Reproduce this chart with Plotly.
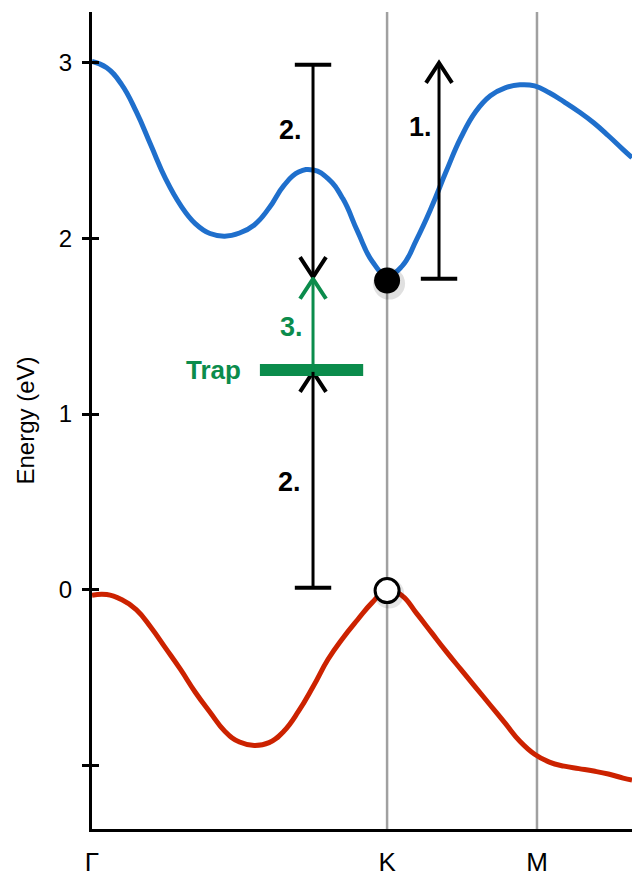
import plotly.graph_objects as go

# ---------------- data ----------------
k_ticks = [0.0, 1.0, 1.508]
k_labels = ["Γ", "K", "M"]
y_ticks = [-1, 0, 1, 2, 3]
y_ticklabels = ["", "0", "1", "2", "3"]

band_k = [0.00, 0.05, 0.10, 0.15, 0.20, 0.25, 0.30, 0.35, 0.40, 0.45, 0.50, 0.55, 0.60,
          0.65, 0.70, 0.75, 0.80, 0.85, 0.90, 0.95, 1.00, 1.05, 1.10, 1.15, 1.20, 1.25,
          1.30, 1.35, 1.40, 1.45, 1.50, 1.55, 1.60, 1.65, 1.70, 1.75, 1.80, 1.83]

cb_e = [3.008, 2.972, 2.878, 2.722, 2.529, 2.338, 2.190, 2.085, 2.028, 2.013, 2.031,
        2.077, 2.173, 2.301, 2.378, 2.390, 2.341, 2.227, 2.040, 1.869, 1.790, 1.841,
        1.994, 2.176, 2.381, 2.574, 2.722, 2.813, 2.858, 2.875, 2.869, 2.830, 2.778,
        2.722, 2.659, 2.585, 2.506, 2.460]

vb_e = [-0.032, -0.028, -0.057, -0.114, -0.216, -0.335, -0.455, -0.585, -0.699, -0.807,
        -0.869, -0.888, -0.872, -0.807, -0.693, -0.551, -0.397, -0.277, -0.172, -0.073,
        0.000, -0.034, -0.136, -0.244, -0.352, -0.455, -0.557, -0.659, -0.761, -0.864,
        -0.938, -0.983, -1.006, -1.020, -1.034, -1.051, -1.074, -1.085]

# transitions: x, start energy, end energy, label, label x, label y, colour, cap at start
tr_x = [1.176, 0.749, 0.749, 0.749]
tr_from = [1.77, 2.99, 1.25, 0.01]
tr_to = [3.0, 1.78, 1.77, 1.24]
tr_label = ["1.", "2.", "3.", "2."]
tr_label_x = [1.113, 0.672, 0.676, 0.668]
tr_label_y = [2.636, 2.62, 1.494, 0.614]
tr_color = ["black", "black", "#0b8c4c", "black"]
tr_cap = [True, True, False, True]

trap_e = 1.25
trap_k = [0.569, 0.919]
trap_text = "Trap"

electron = (1.0, 1.76)
hole = (1.0, -0.006)

# ---------------- geometry helpers ----------------
W, H = 632, 877
ML, MR, MT, MB = 92, 0, 12, 46
xr = [0.0, 1.83]
yr = [-1.364, 3.29]
px_x = (W - ML - MR) / (xr[1] - xr[0])
px_y = (H - MT - MB) / (yr[1] - yr[0])

blue = "#1f6fcc"
red = "#cc2200"
green = "#0b8c4c"
gray = "#a0a0a0"
FONT = "Liberation Sans"

fig = go.Figure()

shapes = []
for kv in k_ticks[1:]:
    shapes.append(dict(type="line", xref="x", yref="paper", x0=kv, x1=kv, y0=0, y1=1,
                       line=dict(color=gray, width=2.5), layer="below"))

shapes.append(dict(type="line", xref="x", yref="y", x0=trap_k[0], x1=trap_k[1],
                   y0=trap_e, y1=trap_e, line=dict(color=green, width=12)))

for x, a, b, c in zip(tr_x, tr_from, tr_to, tr_color):
    shapes.append(dict(type="line", xref="x", yref="y", x0=x, x1=x, y0=a, y1=b,
                       line=dict(color=c, width=3)))

fig.add_trace(go.Scatter(x=band_k, y=cb_e, mode="lines",
                         line=dict(color=blue, width=5, shape="spline", smoothing=1.3),
                         hoverinfo="skip", showlegend=False))
fig.add_trace(go.Scatter(x=band_k, y=vb_e, mode="lines",
                         line=dict(color=red, width=5, shape="spline", smoothing=1.3),
                         hoverinfo="skip", showlegend=False))

# chevron arrowheads
hw = 13 / px_x
hh = 20 / px_y
for x, a, b, c in zip(tr_x, tr_from, tr_to, tr_color):
    d = 1 if b > a else -1
    fig.add_trace(go.Scatter(x=[x - hw, x, x + hw], y=[b - d * hh, b, b - d * hh], mode="lines",
                             line=dict(color=c, width=4), hoverinfo="skip", showlegend=False))

cap_x = [x for x, cp in zip(tr_x, tr_cap) if cp]
cap_y = [a for a, cp in zip(tr_from, tr_cap) if cp]
fig.add_trace(go.Scatter(x=cap_x, y=cap_y, mode="markers",
                         marker=dict(symbol="line-ew", size=26, line=dict(color="black", width=4)),
                         hoverinfo="skip", showlegend=False))

fig.add_trace(go.Scatter(x=[electron[0] + 2 / px_x], y=[electron[1] - 3 / px_y], mode="markers",
                         marker=dict(size=32, color="rgba(0,0,0,0.12)", line=dict(width=0)),
                         hoverinfo="skip", showlegend=False))
fig.add_trace(go.Scatter(x=[electron[0]], y=[electron[1]], mode="markers",
                         marker=dict(size=26, color="black", line=dict(width=0)),
                         hoverinfo="skip", showlegend=False))
fig.add_trace(go.Scatter(x=[hole[0] + 2 / px_x], y=[hole[1] - 3 / px_y], mode="markers",
                         marker=dict(size=30, color="rgba(0,0,0,0.10)", line=dict(width=0)),
                         hoverinfo="skip", showlegend=False))
fig.add_trace(go.Scatter(x=[hole[0]], y=[hole[1]], mode="markers",
                         marker=dict(size=24, color="white", line=dict(color="black", width=3)),
                         hoverinfo="skip", showlegend=False))

annotations = []
for t, lx, ly, c in zip(tr_label, tr_label_x, tr_label_y, tr_color):
    annotations.append(dict(x=lx, y=ly, xref="x", yref="y", text="<b>" + t + "</b>", showarrow=False,
                            font=dict(family=FONT, size=27, color=c)))
annotations.append(dict(x=trap_k[0] - 17 / px_x, y=trap_e, xref="x", yref="y", text="<b>" + trap_text + "</b>",
                        showarrow=False, xanchor="right",
                        font=dict(family=FONT, size=26, color=green)))

fig.update_layout(
    width=W, height=H,
    margin=dict(l=ML, r=MR, t=MT, b=MB),
    paper_bgcolor="white", plot_bgcolor="white",
    shapes=shapes, annotations=annotations,
    font=dict(family=FONT, color="black"),
    xaxis=dict(range=xr, tickvals=k_ticks, ticktext=k_labels, showgrid=False, zeroline=False,
               showline=True, linecolor="black", linewidth=3, ticks="", tickfont=dict(size=26),
               ticklabelstandoff=8, fixedrange=True),
    yaxis=dict(range=yr, tickvals=y_ticks, ticktext=y_ticklabels, showgrid=False, zeroline=False,
               showline=True, linecolor="black", linewidth=3, ticks="outside", ticklen=7, tickwidth=2.5,
               tickcolor="black", tickfont=dict(size=24), ticklabelstandoff=5,
               title=dict(text="Energy (eV)", font=dict(size=24), standoff=18), fixedrange=True),
    yaxis2=dict(range=yr, overlaying="y", side="left", tickvals=y_ticks, showticklabels=False,
                ticks="inside", ticklen=7, tickwidth=2.5, tickcolor="black", showgrid=False,
                zeroline=False, showline=False, fixedrange=True),
)
fig.add_trace(go.Scatter(x=[None], y=[None], yaxis="y2", showlegend=False, hoverinfo="skip"))

fig.write_html("out.html", config={"displayModeBar": False},
               post_script="document.body.style.margin='0px';")
